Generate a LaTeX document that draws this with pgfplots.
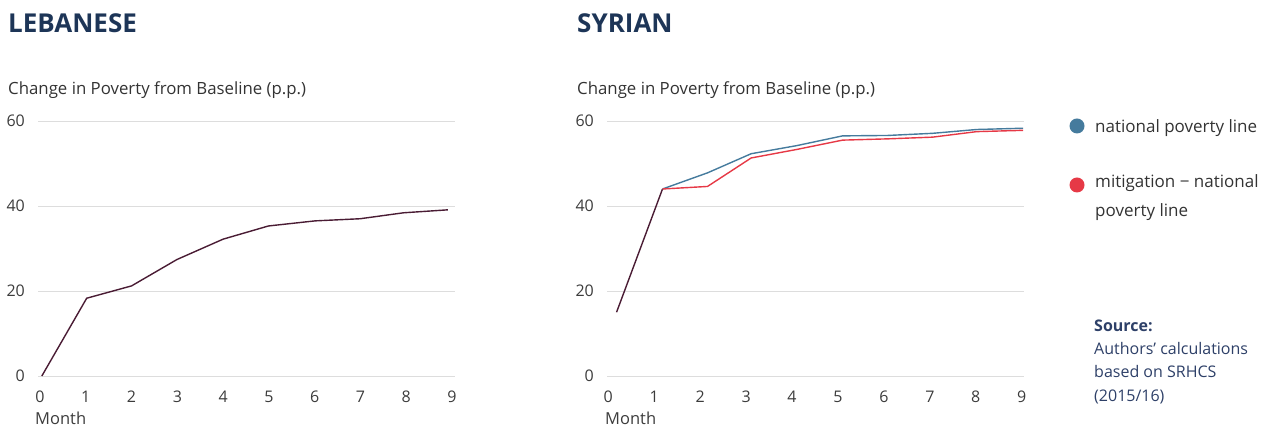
\documentclass[border=0pt]{standalone}
\usepackage{fontspec}
\setmainfont{Open Sans}
\usepackage{pgfplots}
\pgfplotsset{compat=1.18}
\definecolor{titlec}{HTML}{1D3557}
\definecolor{blueL}{HTML}{457B9D}
\definecolor{redL}{HTML}{E63946}
\definecolor{maroon}{HTML}{4A1C34}
\definecolor{txt}{HTML}{333333}
\definecolor{tick}{HTML}{3C3C3C}
\definecolor{gridc}{HTML}{DDDDDD}
\definecolor{srcc}{HTML}{2E4068}
\pgfplotsset{
  chartstyle/.style={
    anchor=south west, scale only axis, width=417pt, height=255pt,
    ymin=0, ymax=60, ytick={0,20,40,60},
    xtick={0,1,...,9},
    axis line style={draw=none}, major tick length=0pt,
    ymajorgrids, grid style={gridc, line width=0.8pt},
    /pgf/number format/assume math mode=true,
    ticklabel style={font=\fontsize{16}{19}\selectfont, text=tick, inner sep=0pt},
    xticklabel style={anchor=base, yshift=-27pt},
    yticklabel style={anchor=east, xshift=-13pt},
    clip=false,
  }
}
\begin{document}
\begin{tikzpicture}[x=1pt,y=1pt]
\path[use as bounding box] (0pt,0pt) rectangle (1276pt,427pt);
% Lebanese
\begin{axis}[chartstyle, at={(38pt,51pt)}, xmin=-0.0437, xmax=9.065]
\addplot[maroon, line width=1.4pt, mark=none] coordinates {
(0.04,0) (1.02,18.3) (2.0,21.2) (2.99,27.4) (4.0,32.2) (4.99,35.3) (6.01,36.5) (6.99,37.0) (7.94,38.4) (8.91,39.1)};
\end{axis}
% Syrian
\begin{axis}[chartstyle, at={(607pt,51pt)}, xmin=-0.028, xmax=9.05]
\addplot[maroon, line width=1.4pt, mark=none] coordinates {(0.18,15.0) (1.18,44.0)};
\addplot[blueL, line width=1.4pt, mark=none] coordinates {
(1.18,44.0) (2.16,47.8) (3.11,52.3) (4.10,54.2) (5.10,56.5) (6.09,56.6) (7.06,57.1) (8.02,58.0) (9.03,58.3)};
\addplot[redL, line width=1.4pt, mark=none] coordinates {
(1.18,44.0) (2.16,44.6) (3.11,51.3) (4.10,53.3) (5.10,55.5) (6.09,55.8) (7.06,56.2) (8.02,57.5) (9.03,57.8)};
\end{axis}
% titles
\node[anchor=base west, inner sep=0pt, font=\fontsize{26}{30}\selectfont\bfseries, text=titlec] at (8pt,394pt) {LEBANESE};
\node[anchor=base west, inner sep=0pt, font=\fontsize{26}{30}\selectfont\bfseries, text=titlec] at (577pt,394pt) {SYRIAN};
\node[anchor=base west, inner sep=0pt, font=\fontsize{16.8}{20}\selectfont, text=txt] at (8pt,332pt) {Change in Poverty from Baseline (p.p.)};
\node[anchor=base west, inner sep=0pt, font=\fontsize{16.8}{20}\selectfont, text=txt] at (577pt,332pt) {Change in Poverty from Baseline (p.p.)};
\node[anchor=base west, inner sep=0pt, font=\fontsize{16.5}{20}\selectfont, text=tick] at (35pt,2pt) {Month};
\node[anchor=base west, inner sep=0pt, font=\fontsize{16.5}{20}\selectfont, text=tick] at (605pt,2pt) {Month};
% legend
\fill[blueL] (1077pt,301pt) circle (7.5pt);
\fill[redL] (1077pt,242pt) circle (7.5pt);
\node[anchor=base west, inner sep=0pt, font=\fontsize{17}{20}\selectfont, text=txt] at (1095pt,294pt) {national poverty line};
\node[anchor=base west, inner sep=0pt, font=\fontsize{17}{20}\selectfont, text=txt] at (1095pt,239pt) {mitigation − national};
\node[anchor=base west, inner sep=0pt, font=\fontsize{17}{20}\selectfont, text=txt] at (1095pt,210.5pt) {poverty line};
% source
\node[anchor=base west, inner sep=0pt, font=\fontsize{16}{19}\selectfont\bfseries, text=srcc] at (1094pt,95.5pt) {Source:};
\node[anchor=base west, inner sep=0pt, font=\fontsize{16}{19}\selectfont, text=srcc] at (1094pt,72pt) {Authors’ calculations};
\node[anchor=base west, inner sep=0pt, font=\fontsize{16}{19}\selectfont, text=srcc] at (1094pt,49pt) {based on SRHCS};
\node[anchor=base west, inner sep=0pt, font=\fontsize{16}{19}\selectfont, text=srcc] at (1094pt,25.5pt) {(2015/16)};
\end{tikzpicture}
\end{document}
